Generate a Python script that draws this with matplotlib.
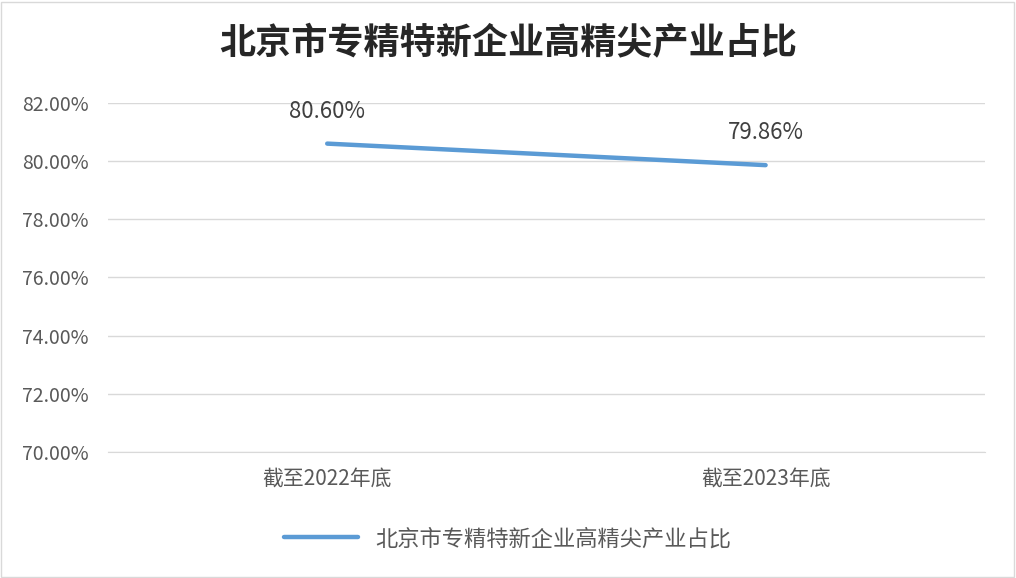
import matplotlib
matplotlib.use("Agg")
import matplotlib.pyplot as plt
from matplotlib.patches import Rectangle

plt.rcParams['font.family'] = ['Noto Sans CJK SC', 'DejaVu Sans']

title = "北京市专精特新企业高精尖产业占比"
categories = ["截至2022年底", "截至2023年底"]
values = [80.60, 79.86]
yticks = [70, 72, 74, 76, 78, 80, 82]

fig = plt.figure(figsize=(10.16, 5.78), dpi=100)
fig.patches.append(Rectangle((0.001, 0.002), 0.997, 0.995, transform=fig.transFigure,
                             fill=False, edgecolor='#D9D9D9', lw=1))
ax = fig.add_axes([0.1063, 0.218, 0.863, 0.604])
x = list(range(len(categories)))
line, = ax.plot(x, values, color='#5B9BD5', lw=3.2, solid_capstyle='round', label=title)
for xi, v in zip(x, values):
    ax.annotate(f"{v:.2f}%", (xi, v), xytext=(0, 15), textcoords='offset points',
                ha='center', va='bottom', fontsize=16, color='#404040')
ax.set_xlim(-0.5, 1.5)
ax.set_ylim(70, 82)
ax.set_yticks(yticks)
ax.set_yticklabels([f"{t:.2f}%" for t in yticks], fontsize=14, color='#595959')
ax.set_xticks(x)
ax.set_xticklabels(categories, fontsize=15, color='#595959')
ax.tick_params(length=0, pad=12)
ax.tick_params(axis='y', pad=14)
ax.grid(axis='y', color='#D9D9D9', lw=1)
for s in ax.spines.values():
    s.set_visible(False)
ax.spines['bottom'].set_visible(True)
ax.spines['bottom'].set_color('#D9D9D9')
ax.set_axisbelow(True)
fig.text(0.5, 0.925, title, ha='center', va='center', fontsize=26, fontweight='bold', color='#262626')
fig.legend(handles=[line], loc='center', bbox_to_anchor=(0.5, 0.068), frameon=False,
           fontsize=16, labelcolor='#595959', handlelength=3.3)
fig.savefig("out.png", dpi=100)
